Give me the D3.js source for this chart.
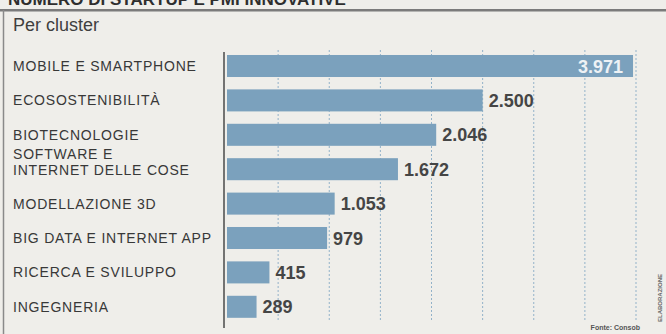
<!DOCTYPE html>
<html>
<head>
<meta charset="utf-8">
<script src="https://cdn.jsdelivr.net/npm/d3@7"></script>
<style>
  body { margin: 0; background: #efeeea; }
  svg { display: block; }
</style>
</head>
<body>
<div id="viz"></div>
<script>
const title = "NUMERO DI STARTUP E PMI INNOVATIVE";
const subtitle = "Per cluster";
const clusters = [
    "MOBILE E SMARTPHONE",
    "ECOSOSTENIBILITÀ",
    "BIOTECNOLOGIE",
    "SOFTWARE E\nINTERNET DELLE COSE",
    "MODELLAZIONE 3D",
    "BIG DATA E INTERNET APP",
    "RICERCA E SVILUPPO",
    "INGEGNERIA"
];
const startups = [3971, 2500, 2046, 1672, 1053, 979, 415, 289];
const valueLabels = ["3.971", "2.500", "2.046", "1.672", "1.053", "979", "415", "289"];
const gridTicks = [500, 1000, 1500, 2000, 2500, 3000, 3500, 4000];
const source = "Fonte: Consob";
const credit = "ELABORAZIONE";

const width = 666, height = 334;
const sans = "Liberation Sans, Arial, sans-serif";

const svg = d3.select("#viz").append("svg")
    .attr("width", width)
    .attr("height", height);

svg.append("rect")
    .attr("width", width).attr("height", height)
    .attr("fill", "#efeeea");

// title, clipped at the top of the cutting
svg.append("text")
    .attr("x", 8).attr("y", 5)
    .attr("font-family", sans)
    .attr("font-weight", "bold")
    .attr("font-size", 17)
    .attr("fill", "#2e2e2e")
    .text(title);

svg.append("rect")
    .attr("x", 0).attr("y", 9)
    .attr("width", width).attr("height", 2.5)
    .attr("fill", "#7b7b7b");

svg.append("line")
    .attr("x1", 3.5).attr("x2", 3.5)
    .attr("y1", 10).attr("y2", height)
    .attr("stroke", "#8a8a8a").attr("stroke-width", 1.5);

svg.append("text")
    .attr("x", 13).attr("y", 31)
    .attr("font-family", sans)
    .attr("font-size", 18)
    .attr("fill", "#3f3f3f")
    .text(subtitle);

const x = d3.scaleLinear()
    .domain([0, 4000])
    .range([227, 636]);

const y = d3.scaleBand()
    .domain(clusters)
    .range([48.8, 324])
    .paddingInner(0.36)
    .paddingOuter(0.18);

// dotted gridlines
svg.append("g")
    .selectAll("line")
    .data(gridTicks)
    .enter().append("line")
        .attr("x1", d => x(d)).attr("x2", d => x(d))
        .attr("y1", 50).attr("y2", 322)
        .attr("stroke", "#93b2c9")
        .attr("stroke-width", 1)
        .attr("stroke-dasharray", "2,2");

// bars
svg.append("g")
    .selectAll("rect")
    .data(startups)
    .enter().append("rect")
        .attr("x", x(0))
        .attr("y", (d, i) => y(clusters[i]))
        .attr("width", d => x(d) - x(0))
        .attr("height", y.bandwidth())
        .attr("fill", "#7ba1bd");

// axis line
svg.append("line")
    .attr("x1", 224).attr("x2", 224)
    .attr("y1", 52).attr("y2", 328)
    .attr("stroke", "#4a4a4a").attr("stroke-width", 1.5);

// category labels, one text per line
const labels = svg.append("g")
    .attr("font-family", sans)
    .attr("font-size", 14)
    .attr("letter-spacing", 0.8)
    .attr("fill", "#383838");

clusters.forEach(c => {
    const lines = c.split("\n");
    const cy = y(c) + y.bandwidth() / 2;
    const y0 = lines.length > 1 ? cy - 10 : cy + 5;
    lines.forEach((l, j) => {
        labels.append("text")
            .attr("x", 13)
            .attr("y", y0 + j * 16)
            .text(l);
    });
});

// value labels
svg.append("g")
    .attr("font-family", sans)
    .attr("font-weight", "bold")
    .attr("font-size", 18)
    .selectAll("text")
    .data(startups)
    .enter().append("text")
        .attr("x", (d, i) => i === 0 ? x(d) - 10 : x(d) + 6)
        .attr("y", (d, i) => y(clusters[i]) + y.bandwidth() / 2 + 6.5)
        .attr("text-anchor", (d, i) => i === 0 ? "end" : "start")
        .attr("fill", (d, i) => i === 0 ? "#eef2f5" : "#454545")
        .text((d, i) => valueLabels[i]);

svg.append("text")
    .attr("x", 640).attr("y", 330)
    .attr("text-anchor", "end")
    .attr("font-family", sans)
    .attr("font-weight", "bold")
    .attr("font-size", 7)
    .attr("fill", "#555")
    .text(source);

svg.append("text")
    .attr("transform", "translate(662, 322) rotate(-90)")
    .attr("font-family", sans)
    .attr("font-weight", "bold")
    .attr("font-size", 6)
    .attr("fill", "#666")
    .text(credit);
</script>
</body>
</html>
